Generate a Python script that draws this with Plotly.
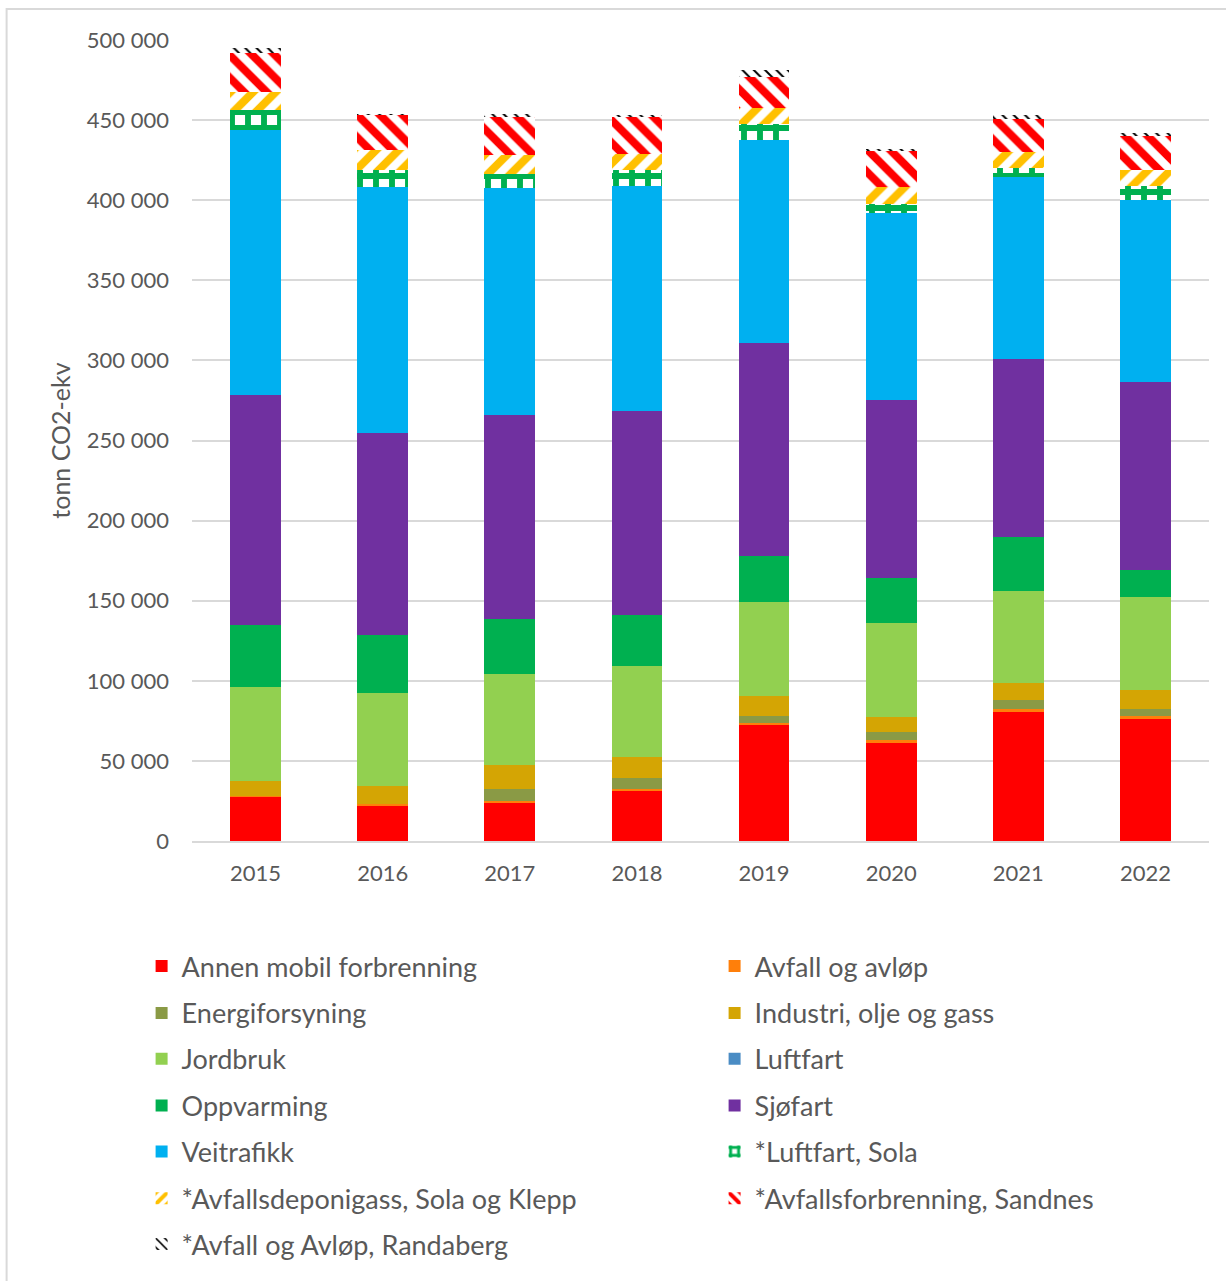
import plotly.graph_objects as go

years = ["2015", "2016", "2017", "2018", "2019", "2020", "2021", "2022"]

annen_mobil = [27500, 21800, 23500, 31800, 72400, 61400, 80700, 76100]
avfall_avlop = [500, 1300, 1300, 800, 1400, 1600, 1500, 1900]
energiforsyning = [0, 0, 7700, 6700, 4400, 5000, 6000, 4200]
industri = [9300, 11200, 15100, 13300, 12500, 9200, 10200, 12000]
jordbruk = [59000, 57900, 56600, 56600, 58500, 58800, 57600, 58100]
luftfart = [0, 0, 0, 0, 0, 0, 0, 0]
oppvarming = [38300, 36300, 34400, 31800, 28700, 28100, 33700, 16800]
sjofart = [143600, 126100, 127300, 127300, 132900, 111100, 111100, 117300]
veitrafikk = [165600, 153800, 141500, 140500, 126800, 117100, 113700, 113600]
luftfart_sola = [12500, 10400, 8900, 10000, 9900, 5600, 5300, 8800]
deponigass = [11200, 12500, 11900, 10300, 9800, 10400, 10300, 10000]
forbrenning_sandnes = [24600, 21900, 23500, 22600, 19800, 22900, 20900, 21200]
avlop_randaberg = [3100, 300, 1900, 1600, 4100, 1000, 2000, 2100]

# (name, values, colour, pattern)
series = [
    ("Annen mobil forbrenning", annen_mobil, "#FF0000", None),
    ("Avfall og avløp", avfall_avlop, "#FF7F0A", None),
    ("Energiforsyning", energiforsyning, "#8A9A45", None),
    ("Industri, olje og gass", industri, "#D4A504", None),
    ("Jordbruk", jordbruk, "#92D050", None),
    ("Luftfart", luftfart, "#4A8CC4", None),
    ("Oppvarming", oppvarming, "#00B050", None),
    ("Sjøfart", sjofart, "#7030A0", None),
    ("Veitrafikk", veitrafikk, "#00B0F0", None),
    ("*Luftfart, Sola", luftfart_sola, "#00B050",
     dict(shape="+", fgcolor="#00B050", bgcolor="white", fgopacity=1, size=16, solidity=0.6)),
    ("*Avfallsdeponigass, Sola og Klepp", deponigass, "#FFC000",
     dict(shape="/", fgcolor="#FFC000", bgcolor="white", fgopacity=1, size=16, solidity=0.5)),
    ("*Avfallsforbrenning, Sandnes", forbrenning_sandnes, "#FF0000",
     dict(shape="\\", fgcolor="#FF0000", bgcolor="white", fgopacity=1, size=16, solidity=0.5)),
    ("*Avfall og Avløp, Randaberg", avlop_randaberg, "#000000",
     dict(shape="\\", fgcolor="#000000", bgcolor="white", fgopacity=1, size=8, solidity=0.25)),
]

FONT = "Lato"
GREY = "#595959"

# legend grid: two columns, one legend block per entry
row_px = [970, 1017, 1063, 1110, 1156, 1203, 1249]
col_px = [142, 715]
plot_top, plot_bottom = 40, 844
plot_h = plot_bottom - plot_top
plot_left, plot_w = 192.4, 1017.0

fig = go.Figure()
legend_layouts = {}
for i, (name, vals, col, pat) in enumerate(series):
    key = "legend" if i == 0 else f"legend{i + 1}"
    marker = dict(color=col, line=dict(width=0))
    if pat:
        marker = dict(color="white", pattern=pat, line=dict(width=0))
    fig.add_trace(go.Bar(
        x=years, y=vals, name=name, marker=marker, legend=key,
        hovertemplate="%{x}: %{y:,.0f}<extra>" + name + "</extra>",
    ))
    legend_layouts[key] = dict(
        x=(col_px[i % 2] - plot_left) / plot_w,
        xanchor="left",
        y=(plot_bottom - row_px[i // 2]) / plot_h,
        yanchor="middle",
        font=dict(family=FONT, size=27, color=GREY),
        bgcolor="rgba(0,0,0,0)",
        itemclick=False,
    )

fig.update_layout(
    width=1226, height=1281,
    margin=dict(l=192, r=17, t=40, b=1281 - plot_bottom),
    paper_bgcolor="white", plot_bgcolor="white",
    barmode="stack", bargap=0.6,
    font=dict(family=FONT, color=GREY, size=22),
    showlegend=True,
    **legend_layouts,
    xaxis=dict(showgrid=False, showline=True, linecolor="#D9D9D9", linewidth=2,
               ticks="", tickfont=dict(size=22, color=GREY), ticklabelstandoff=12),
    yaxis=dict(range=[0, 500000], dtick=50000, tickformat=",.0f",
               showgrid=True, gridcolor="#D9D9D9", gridwidth=2, zeroline=False,
               ticks="", tickfont=dict(size=22, color=GREY), ticklabelstandoff=22,
               title=dict(text="tonn CO2-ekv", font=dict(size=25, color=GREY), standoff=9)),
    separators=", ",
    shapes=[dict(type="rect", xref="paper", yref="paper",
                 x0=(7 - plot_left) / plot_w, x1=1.2,
                 y0=-1.0, y1=(plot_bottom - 9) / plot_h,
                 line=dict(color="#D9D9D9", width=2), fillcolor="rgba(0,0,0,0)",
                 layer="below")],
)

fig.write_html("out.html")
